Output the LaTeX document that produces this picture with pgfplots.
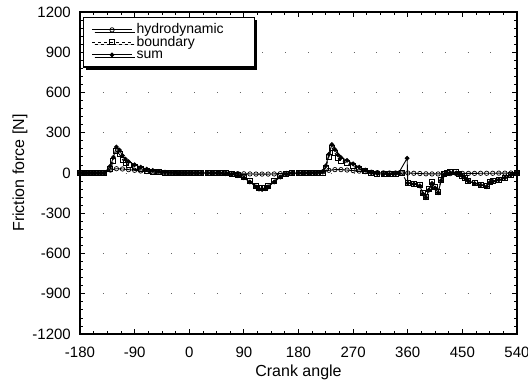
\documentclass[border=0pt]{standalone}
\usepackage{pgfplots}
\pgfplotsset{compat=1.18}
\usepackage{fontspec}
\setmainfont{Liberation Sans}
\usetikzlibrary{shadows}
\pgfplotstableread{
x y
-180 0
-170 0
-160 0
-150 0
-140 0
-130 22
-120 32
-110 30
-100 25
-90 20
-80 15
-70 11
-60 8
-50 5
-40 3
-30 2
-20 1
-10 0
0 0
10 0
20 0
30 0
40 0
50 -2
60 -3
70 -4
80 -5
90 -6
100 -7
110 -8
120 -8
130 -8
140 -7
150 -5
160 -3
170 -1
180 0
190 1
200 2
210 3
220 8
230 20
240 25
250 25
260 22
270 18
280 14
290 10
300 6
310 3
320 1
330 0
340 0
350 0
360 0
370 -2
380 -4
390 -6
400 -7
410 -7
420 -6
430 -5
440 -4
450 -3
460 -3
470 -3
480 -2
490 -2
500 -2
510 -1
520 -1
530 0
540 0
}\hydro
\pgfplotstableread{
x y
-180 0
-170 0
-160 0
-150 0
-140 0
-130 30
-125 90
-120 162
-115 140
-110 100
-105 75
-100 60
-90 42
-80 28
-70 18
-60 11
-50 6
-40 3
-30 1
-20 0
-10 0
0 0
10 0
20 0
30 0
40 0
50 0
60 -2
70 -5
80 -15
90 -30
100 -60
110 -95
115 -112
120 -115
125 -110
130 -95
140 -60
150 -25
160 -5
170 0
180 0
190 0
200 0
210 0
220 2
225 40
230 120
235 190
240 150
245 110
250 90
260 72
270 50
280 30
290 12
300 -3
310 -8
320 -10
330 -10
340 -5
350 -3
360 -75
370 -80
380 -92
385 -150
390 -178
395 -120
400 -70
405 -105
410 -140
415 -50
420 -8
425 3
430 5
440 5
445 -5
450 -20
455 -38
460 -58
470 -75
480 -88
490 -100
495 -70
500 -60
510 -50
520 -35
530 -15
540 0
}\boundary
\pgfplotstableread{
x y
-180 0
-170 0
-160 0
-150 0
-140 0
-130 52
-125 117
-120 194
-115 171
-110 130
-105 103
-100 85
-90 62
-80 43
-70 29
-60 19
-50 11
-40 6
-30 3
-20 1
-10 0
0 0
10 0
20 0
30 0
40 0
50 -2
60 -5
70 -9
80 -20
90 -36
100 -67
110 -103
115 -120
120 -123
125 -118
130 -103
140 -67
150 -30
160 -8
170 -1
180 0
190 1
200 2
210 3
220 10
225 54
230 140
235 212
240 175
245 135
250 115
260 94
270 68
280 44
290 22
300 3
310 -5
320 -9
330 -10
340 -5
345 0
359 110
360 -75
370 -82
380 -96
385 -155
390 -184
395 -127
400 -77
405 -112
410 -147
415 -57
420 -14
425 -2
430 0
440 1
445 -9
450 -23
455 -41
460 -61
470 -78
480 -90
490 -102
495 -72
500 -62
510 -51
520 -36
530 -15
540 0
}\summ
\begin{document}
\fontsize{15}{17}\selectfont
\begin{tikzpicture}
\begin{axis}[
  name=ax,
  scale only axis,
  width=437pt, height=322pt,
  xmin=-180, xmax=540, ymin=-1200, ymax=1200,
  xtick={-180,-90,...,540},
  ytick={-1200,-900,...,1200},
  minor x tick num=3,
  minor y tick num=4,
  tick align=inside,
  major tick length=5pt,
  minor tick length=3pt,
  tick style={line width=0.8pt, black},
  axis line style={line width=1.2pt},
  /pgf/number format/assume math mode=true,
  /pgf/number format/1000 sep={},
  tick label style={font=\fontsize{15}{17}\selectfont},
  xticklabel style={inner sep=0pt, anchor=north, yshift=-13pt},
  yticklabel style={inner sep=0pt, anchor=east, xshift=-9pt},
  ymajorgrids,
  major grid style={black!60, line width=0.8pt, dash pattern=on 0.8pt off 22pt},
  xlabel={Crank angle},
  ylabel={Friction force [N]},
  every axis x label/.style={at={(axis description cs:0.5,0)}, anchor=center, yshift=-38pt, font=\fontsize{16}{18}\selectfont},
  every axis y label/.style={at={(axis description cs:0,0.5)}, xshift=-60pt, rotate=90, anchor=center, font=\fontsize{16}{18}\selectfont},
  legend cell align=left,
  legend style={
    at={(axis description cs:0,1)}, anchor=north west,
    xshift=3pt, yshift=-5pt,
    draw=black, line width=1.2pt, fill=white,
    drop shadow={shadow xshift=2.5pt, shadow yshift=-2.5pt, opacity=1, fill=black},
    inner xsep=8pt, inner ysep=6pt,
    row sep=0pt,
    nodes={inner sep=0pt, text height=10pt, text depth=2.5pt, font=\fontsize{14}{12}\selectfont},
  },
  legend image code/.code={%
    \draw[mark repeat=2,mark phase=2,#1] plot coordinates {(0pt,0pt) (20pt,0pt) (40pt,0pt)};},
]
\addplot[black, line width=0.9pt, mark=o, mark size=2.2pt, mark options={solid, line width=0.7pt, fill=white}] table {\hydro};
\addlegendentry{\hspace{4pt}\makebox[110pt][l]{hydrodynamic}}
\addplot[black, line width=0.9pt, dashed, mark=square, mark size=2.5pt, mark options={solid, line width=0.9pt}] table {\boundary};
\addlegendentry{\hspace{4pt}boundary}
\addplot[black, line width=0.9pt, mark=*, mark size=1.9pt] table {\summ};
\addlegendentry{\hspace{4pt}sum}
\end{axis}
\pgfresetboundingbox
\path[use as bounding box] ([xshift=-80pt,yshift=-48pt]ax.south west) rectangle ([xshift=11pt,yshift=12pt]ax.north east);
\end{tikzpicture}
\end{document}
